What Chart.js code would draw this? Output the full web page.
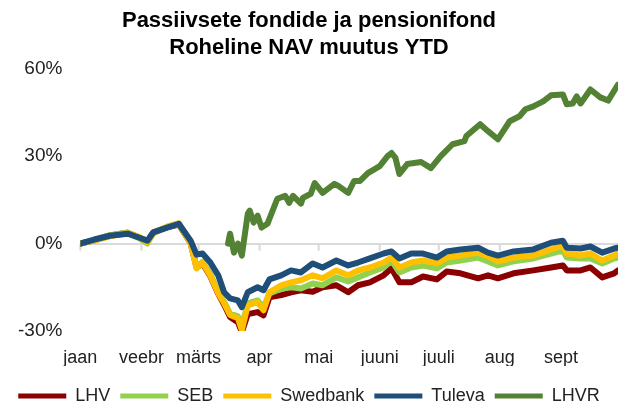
<!DOCTYPE html>
<html>
<head>
<meta charset="utf-8">
<script src="https://cdn.jsdelivr.net/npm/chart.js@4/dist/chart.umd.min.js"></script>
<style>
  html, body { margin: 0; padding: 0; background: #fff; }
  #wrap { width: 620px; height: 409px; position: relative; }
</style>
</head>
<body>
<div id="wrap"><canvas id="navChart"></canvas></div>
<script>
// days since 1 Jan
const days = [0, 7, 15, 24, 30, 34, 37, 44, 50, 56, 59, 62, 66, 70, 73, 76, 80, 82, 85, 90, 93, 96,
    102, 107, 112, 118, 123, 130, 136, 141, 147, 154, 158, 162, 168, 174, 181, 186, 193, 202, 207,
    212, 220, 230, 239, 245, 247, 254, 259, 265, 271, 273];

const lhv = [0, 1.1, 2.8, 3.7, 2.1, 0.6, 3.9, 5.6, 6.5, 0.2, -8.2, -6.8, -11.2, -17.2, -21, -25.2, -27, -30.4,
    -24.2, -23.5, -24.6, -18.4, -17.7, -16.7, -16.0, -16.5, -15.0, -14.3, -16.7, -14.3, -13.3, -10.9, -8.5,
    -13.3, -13.3, -11.3, -12.3, -9.6, -10.2, -11.9, -10.9, -11.9, -10.2, -9.2, -8.2, -7.5, -9.2, -9.2,
    -8.2, -11.6, -10.2, -9.2];
const seb = [0, 1.2, 2.9, 3.8, 1.8, 0.0, 3.6, 5.7, 6.6, 0.3, -8.0, -6.3, -10.5, -16.5, -20.0, -24.0, -25.0, -28.5,
    -20.5, -19.5, -22.0, -17.1, -15.5, -15.0, -15.4, -13.7, -14.3, -11.6, -13.0, -11.6, -9.9, -8.2, -5.8,
    -9.9, -8.2, -7.5, -8.5, -6.5, -5.8, -4.8, -6.1, -7.5, -6.1, -5.1, -3.4, -2.4, -4.8, -5.1,
    -5.1, -6.8, -5.1, -4.8];
const swedbank = [0, 1.0, 2.5, 3.6, 2.3, 0.5, 3.5, 5.8, 7.0, 0.0, -8.5, -6.5, -11, -17, -20.5, -24.5, -25.6, -29.7,
    -21.2, -20.1, -22.9, -16.7, -14.3, -13.3, -12.6, -10.9, -11.9, -9.2, -10.9, -9.2, -8.2, -6.5, -4.8,
    -8.2, -6.5, -5.8, -6.8, -4.8, -4.1, -3.1, -4.4, -6.1, -4.8, -4.1, -2.0, -0.7, -3.4, -4.1,
    -3.4, -5.8, -4.1, -3.4];
const tuleva = [0, 1.4, 2.7, 3.4, 2.0, 1.0, 3.8, 5.5, 6.8, 1.0, -3.8, -3.4, -6.5, -10.9, -16.7, -18.8, -19.5, -21.8,
    -16.7, -15.0, -16.0, -12.3, -10.9, -9.2, -9.9, -6.8, -8.2, -5.8, -7.5, -6.5, -5.1, -3.4, -2.7,
    -5.1, -3.4, -3.4, -4.8, -2.7, -2.0, -1.4, -3.1, -4.1, -2.7, -2.0, 0.3, 1.0, -1.4, -1.7,
    -1.0, -3.1, -1.7, -1.4];

// LHVR starts later, own day list
const lhvrDays = [75, 76, 78, 80, 82, 85, 86, 88, 90, 92, 95, 100, 104, 106, 108, 112, 113, 117, 119, 123, 129,
    131, 136, 139, 142, 146, 152, 156, 158, 160, 162, 166, 173, 178, 183, 189, 195, 196, 203, 207, 212,
    218, 223, 226, 230, 235, 239, 245, 247, 250, 252, 254, 259, 264, 268, 273];
const lhvr = [0, 3.4, -3.1, 0, -4.1, 10.2, 11.3, 7.2, 9.6, 5.5, 6.8, 15.4, 16.4, 14.0, 16.4, 13.7, 15.7, 17.1, 20.8,
    17.4, 20.5, 19.8, 17.4, 21.5, 21.5, 24.2, 26.6, 30.0, 31.1, 29.4, 23.9, 27.3, 28.0, 25.9, 30.0, 34.1,
    35.2, 36.9, 41.0, 38.6, 35.8, 42.0, 43.7, 46.1, 47.1, 48.8, 50.9, 51.2, 47.8, 48.1, 50.5, 48.1, 52.9,
    50.2, 49.1, 54.6];

const monthStarts = [0, 31, 60, 91, 121, 152, 182, 213, 244];
const monthNames = ['jaan', 'veebr', 'märts', 'apr', 'mai', 'juuni', 'juuli', 'aug', 'sept'];
const yTicks = [-30, 0, 30, 60];

const pts = (xs, ys) => xs.map((d, i) => ({ x: d, y: ys[i] }));

const series = [
    { label: 'LHV', data: pts(days, lhv), color: '#8b0000', order: 4 },
    { label: 'SEB', data: pts(days, seb), color: '#92d050', order: 3 },
    { label: 'Swedbank', data: pts(days, swedbank), color: '#ffc000', order: 2 },
    { label: 'Tuleva', data: pts(days, tuleva), color: '#1f4e79', order: 1 },
    { label: 'LHVR', data: pts(lhvrDays, lhvr), color: '#548235', order: 0 }
];

// small tick marks on the zero line at month starts
const zeroTicks = {
    id: 'zeroTicks',
    beforeDatasetsDraw(chart) {
        const { ctx, scales } = chart;
        const y0 = scales.y.getPixelForValue(0);
        ctx.save();
        ctx.strokeStyle = '#d9d9d9';
        ctx.lineWidth = 2;
        monthStarts.forEach((d) => {
            const x = scales.x.getPixelForValue(d);
            ctx.beginPath();
            ctx.moveTo(x, y0);
            ctx.lineTo(x, y0 + 7);
            ctx.stroke();
        });
        ctx.restore();
    }
};

const font = "'Liberation Sans', Arial, sans-serif";

new Chart(document.getElementById('navChart'), {
    type: 'line',
    data: {
        datasets: series.map((s) => ({
            label: s.label,
            data: s.data,
            borderColor: s.color,
            backgroundColor: s.color,
            borderWidth: 6,
            pointRadius: 0,
            tension: 0,
            order: s.order,
            borderJoinStyle: 'round',
            borderCapStyle: 'round'
        }))
    },
    options: {
        responsive: true,
        maintainAspectRatio: false,
        animation: false,
        layout: { padding: { left: 0, right: 2, top: 4, bottom: 0 } },
        scales: {
            x: {
                type: 'linear',
                min: 0,
                max: 273,
                afterBuildTicks: (axis) => {
                    axis.ticks = monthStarts.map((v) => ({ value: v }));
                },
                afterFit: (axis) => {
                    axis.height = 35;
                },
                ticks: {
                    autoSkip: false,
                    maxRotation: 0,
                    padding: 16,
                    color: '#222',
                    font: { family: font, size: 18 },
                    callback: (v) => monthNames[monthStarts.indexOf(v)]
                },
                grid: { display: false, drawTicks: false },
                border: { display: false }
            },
            y: {
                min: -30,
                max: 60,
                afterBuildTicks: (axis) => {
                    axis.ticks = yTicks.map((v) => ({ value: v }));
                },
                ticks: {
                    padding: 18,
                    color: '#222',
                    font: { family: font, size: 19 },
                    callback: (v) => v + '%'
                },
                grid: {
                    color: (c) => (c.tick && c.tick.value === 0 ? '#d9d9d9' : 'transparent'),
                    lineWidth: 2,
                    drawTicks: false
                },
                border: { display: false }
            }
        },
        plugins: {
            title: {
                display: true,
                text: ['Passiivsete fondide ja pensionifond', 'Roheline NAV muutus YTD'],
                color: '#000',
                font: { family: font, size: 22, weight: 'bold', lineHeight: 1.2 },
                padding: { top: 4, bottom: 8 }
            },
            legend: {
                position: 'bottom',
                maxHeight: 43,
                title: {
                    display: true,
                    text: '',
                    font: { size: 1, lineHeight: 1 },
                    padding: { top: 10, bottom: 0 }
                },
                labels: {
                    boxWidth: 48,
                    boxHeight: 5,
                    useBorderRadius: true,
                    borderRadius: 2.5,
                    padding: 10,
                    color: '#222',
                    font: { family: font, size: 18 },
                    generateLabels: (chart) => chart.data.datasets.map((ds, i) => ({
                        text: ds.label,
                        fillStyle: ds.borderColor,
                        strokeStyle: ds.borderColor,
                        lineWidth: 0,
                        fontColor: '#222',
                        datasetIndex: i,
                        hidden: false
                    }))
                }
            },
            tooltip: { enabled: false }
        }
    },
    plugins: [zeroTicks]
});
</script>
</body>
</html>
